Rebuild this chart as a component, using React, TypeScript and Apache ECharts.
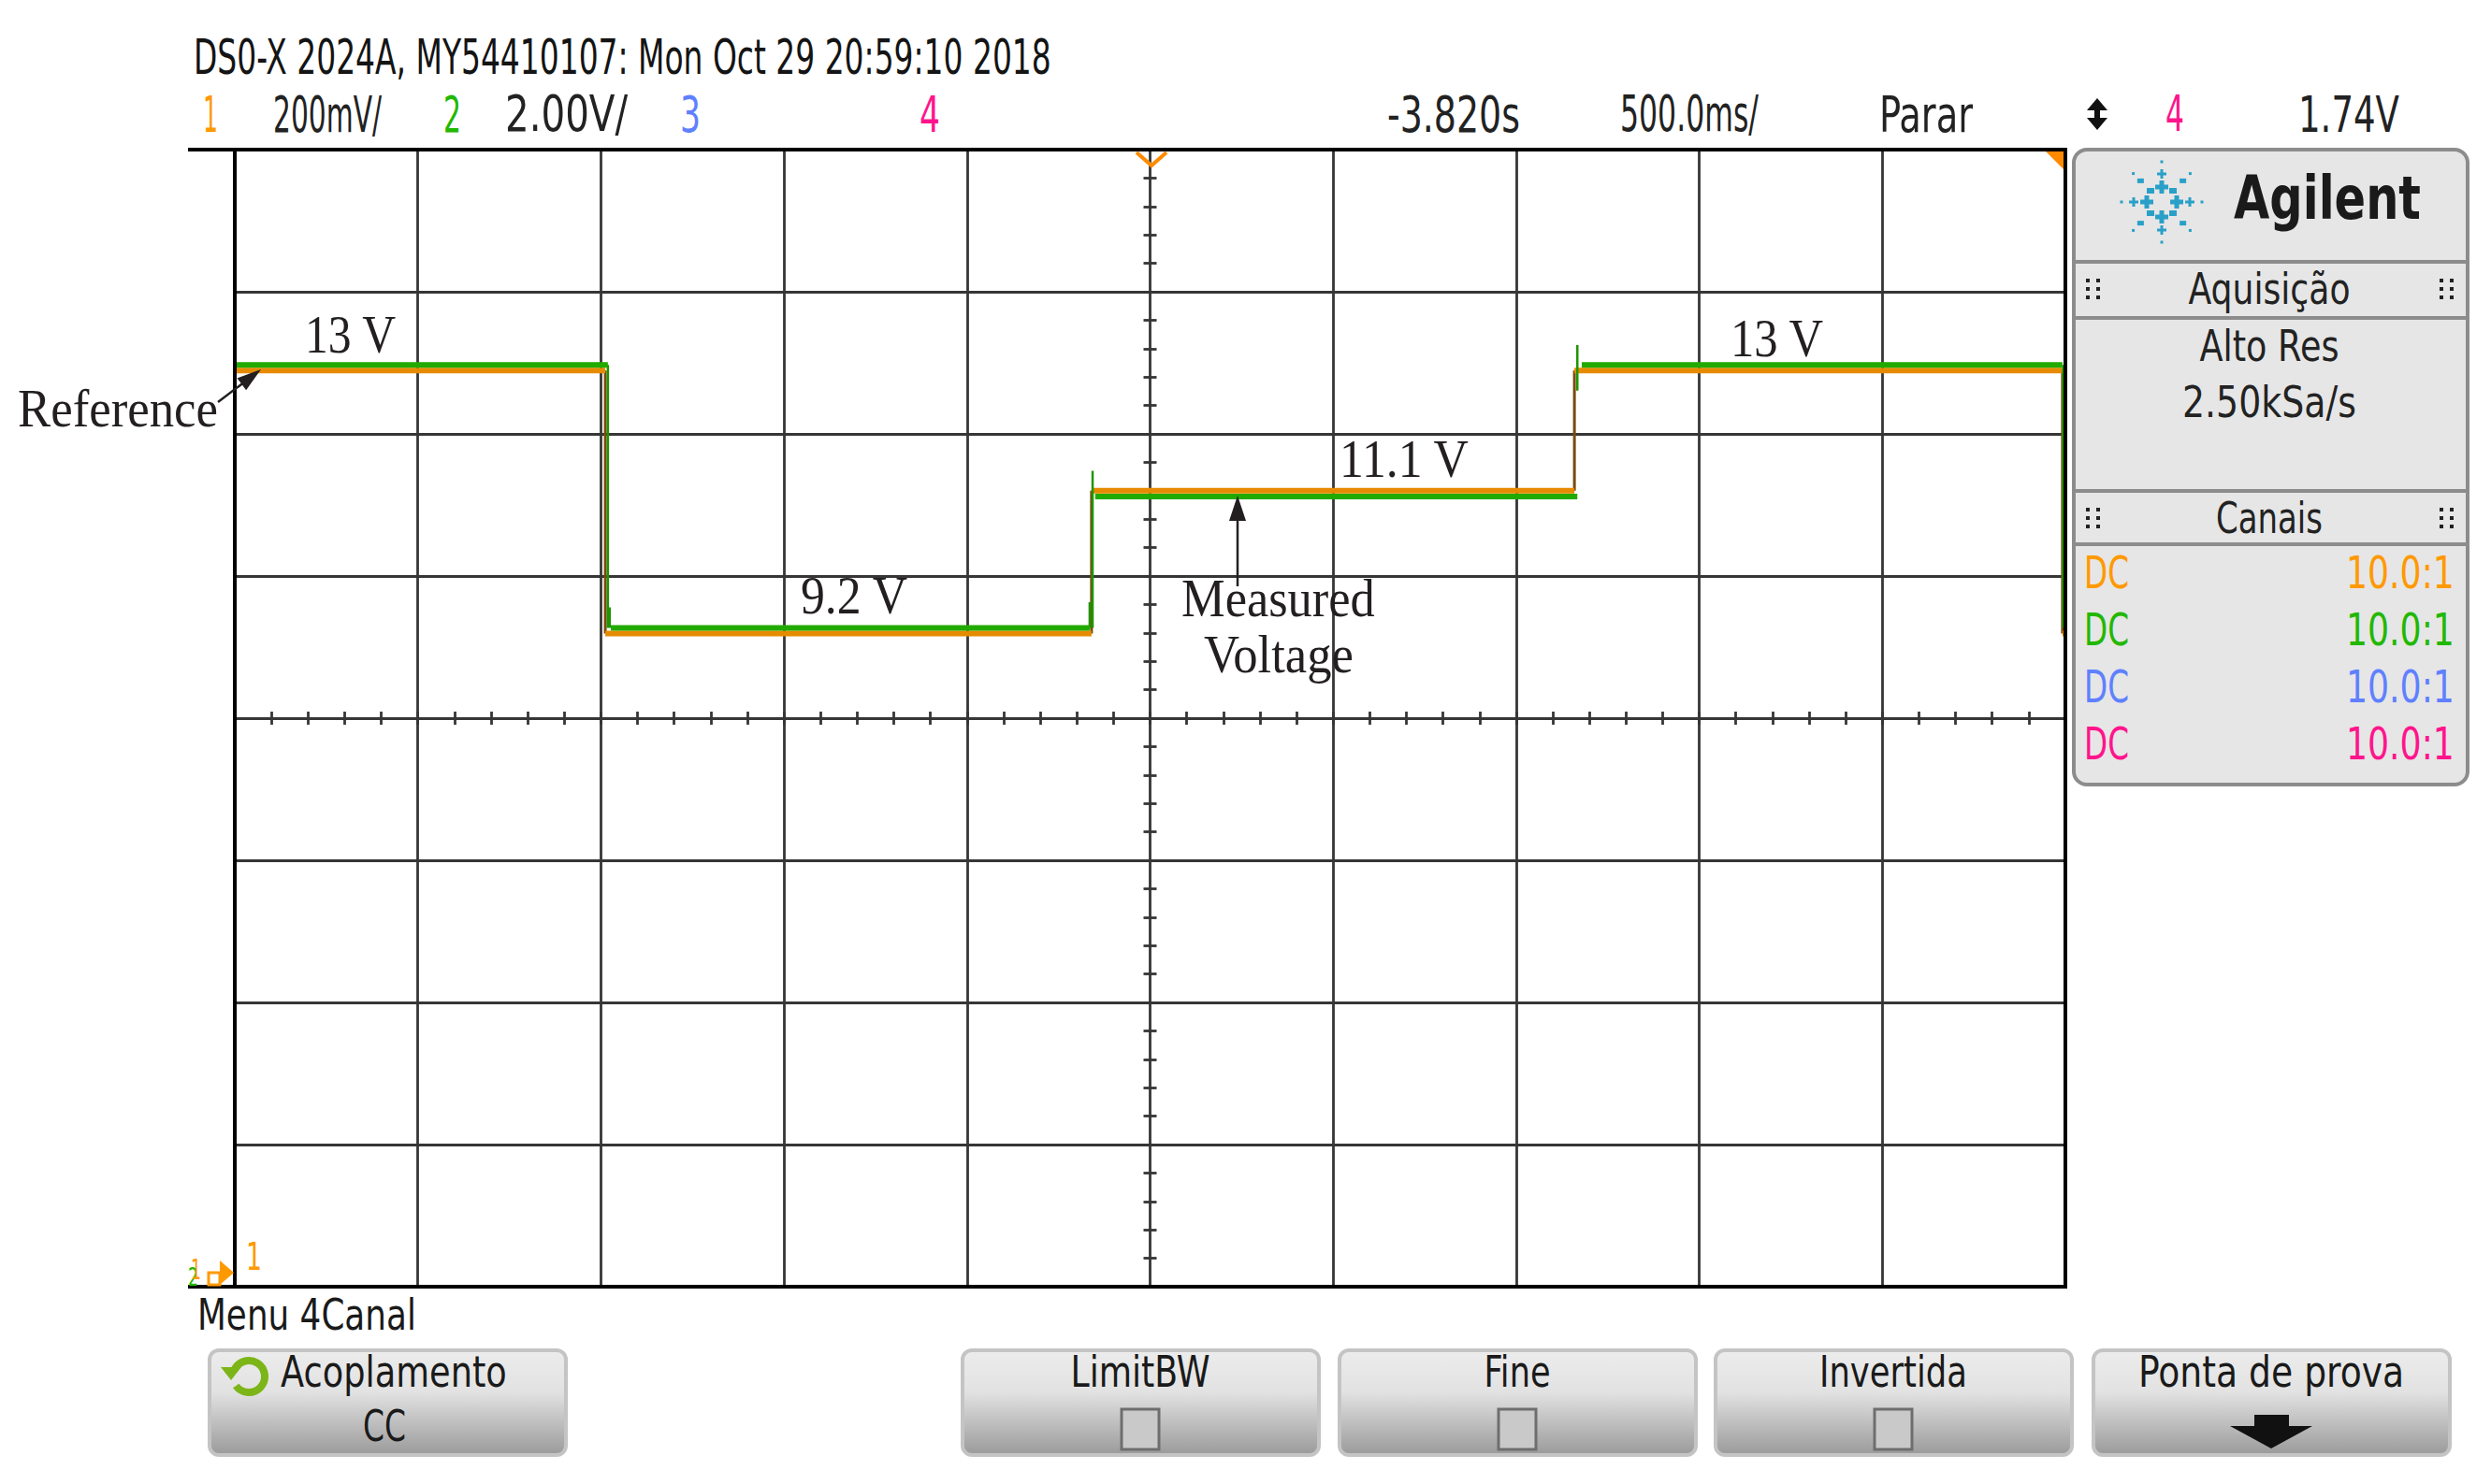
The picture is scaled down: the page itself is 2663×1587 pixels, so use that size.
import React, { useEffect, useRef } from "react";
import * as echarts from "echarts";

const W = 2663;
const H = 1587;

// ---------------- data read from the screen ----------------
// x: time from the left edge of the screen in s (500.0 ms/div, 10 div)
const timeMin = 0;
const timeMax = 5;
const timeStep = 0.5;
// channel 2 (measured): 2.00 V/div, 8 div
const voltMin = 0;
const voltMax = 16;
const voltStep = 2;
// channel 1 (reference): 200 mV/div
const refMin = 0;
const refMax = 1.6;

// reference (ch1, orange) flat segments
const refSegStart = [0, 1.012, 2.34, 3.659, 4.992];
const refSegEnd = [1.012, 2.34, 3.659, 4.992, 5.0];
const refLevels = [1.289, 0.919, 1.12, 1.289, 0.919];

// measured (ch2, green) flat segments
const measSegStart = [0, 1.027, 2.35, 3.679, 4.996];
const measSegEnd = [1.019, 2.335, 3.667, 4.992, 5.0];
const measLevels = [12.97, 9.27, 11.12, 12.97, 9.27];

// measured edges and glitches: time, from, to
const measEdgeTime = [1.019, 1.024, 2.335, 2.343, 3.667, 4.994];
const measEdgeFrom = [12.97, 9.56, 9.63, 9.27, 12.61, 12.97];
const measEdgeTo = [9.27, 9.27, 9.27, 11.48, 13.25, 9.27];

// annotation texts
const levelNotes = ["13 V", "9.2 V", "11.1 V", "13 V"];
const headerTitle = "DS0-X 2024A, MY54410107: Mon Oct 29 20:59:10 2018";
const channelRatios = ["10.0:1", "10.0:1", "10.0:1", "10.0:1"];
const buttonTitles = ["Acoplamento", "LimitBW", "Fine", "Invertida", "Ponta de prova"];

const ORANGE = "#e68a00";
const GREEN = "#22aa00";
const C1 = "#ff9900";
const C2 = "#22b800";
const C3 = "#5f80ff";
const C4 = "#ff148c";

const narrow = '"Liberation Sans Narrow", "DejaVu Sans Condensed", "DejaVu Sans", sans-serif';
const pixel = '"DejaVu Sans", sans-serif';
const serif = '"Liberation Serif", "Times New Roman", serif';

export default function App() {
  const ref = useRef<HTMLDivElement>(null);

  useEffect(() => {
    document.body.style.margin = "0";
    const el = ref.current!;
    const chart = echarts.init(el, null, { renderer: "svg" });

    const ctx = document.createElement("canvas").getContext("2d")!;
    const measure = (s: string, size: number, family: string, weight: string) => {
      ctx.font = `${weight} ${size}px ${family}`;
      return ctx.measureText(s).width || 1;
    };
    const T = (
      s: string,
      x: number,
      y: number,
      w: number,
      size: number,
      family: string,
      color: string,
      align: string = "left",
      weight: string = "normal"
    ) => {
      const nat = measure(s, size, family, weight);
      let left = x;
      if (align === "center") left = x - w / 2;
      if (align === "right") left = x - w;
      return {
        type: "text",
        x: left,
        y,
        scaleX: w / nat,
        z: 120,
        silent: true,
        style: {
          text: s,
          fill: color,
          fontSize: size,
          fontFamily: family,
          fontWeight: weight,
          align: "left",
          verticalAlign: "middle",
          textAlign: "left",
          textVerticalAlign: "middle",
        },
      };
    };
    const line = (x1: number, y1: number, x2: number, y2: number, color: string, lw: number, z = 110) => ({
      type: "line",
      z,
      silent: true,
      shape: { x1, y1, x2, y2 },
      style: { stroke: color, lineWidth: lw },
    });
    const poly = (pts: number[][], color: string, z = 110) => ({
      type: "polygon",
      z,
      silent: true,
      shape: { points: pts },
      style: { fill: color },
    });
    const rect = (x: number, y: number, w: number, h: number, style: any, r = 0, z = 105) => ({
      type: "rect",
      z,
      silent: true,
      shape: { x, y, width: w, height: h, r },
      style,
    });

    // series data built from the arrays
    const flat = (st: number[], en: number[], lv: number[]) =>
      st.flatMap((s, i) => [
        [s, lv[i]],
        [en[i], lv[i]],
        [en[i], "-"],
      ]);
    const refFlat = flat(refSegStart, refSegEnd, refLevels);
    const measFlat = flat(measSegStart, measSegEnd, measLevels);
    const refEdges = refSegStart.slice(1).flatMap((t, i) => [
      [t, refLevels[i]],
      [t, refLevels[i + 1]],
      [t, "-"],
    ]);
    const measEdges = measEdgeTime.flatMap((t, i) => [
      [t, measEdgeFrom[i]],
      [t, measEdgeTo[i]],
      [t, "-"],
    ]);

    const gridL = 251, gridT = 160, gridW = 1957, gridH = 1216;

    const g: any[] = [];

    // header
    g.push(T(headerTitle, 207, 61, 917, 52, narrow, "#141414"));
    const hy = 122;
    g.push(T("1", 217, hy, 16, 54, narrow, C1));
    g.push(T("200mV/", 292, hy, 116, 54, narrow, "#222"));
    g.push(T("2", 474, hy, 19, 54, narrow, C2));
    g.push(T("2.00V/", 540, hy, 131, 54, narrow, "#222"));
    g.push(T("3", 727, hy, 22, 54, narrow, C3));
    g.push(T("4", 983, hy, 22, 54, narrow, C4));
    g.push(T("-3.820s", 1483, hy, 142, 54, narrow, "#222"));
    g.push(T("500.0ms/", 1732, hy, 148, 54, narrow, "#222"));
    g.push(T("Parar", 2009, hy, 100, 54, narrow, "#222"));
    g.push(T("4", 2315, hy, 20, 54, narrow, C4));
    g.push(T("1.74V", 2457, hy, 108, 54, narrow, "#222"));
    // up-down arrow
    g.push(poly([[2242, 105], [2231, 118], [2253, 118]], "#111"));
    g.push(rect(2239, 116, 6, 12, { fill: "#111" }, 0, 110));
    g.push(poly([[2231, 126], [2253, 126], [2242, 139]], "#111"));

    // screen frame
    g.push(rect(gridL, gridT, gridW, gridH, { fill: "none", stroke: "#000", lineWidth: 4 }, 0, 100));
    g.push(line(201, gridT, gridL, gridT, "#000", 4, 100));
    g.push(line(201, gridT + gridH, gridL, gridT + gridH, "#000", 4, 100));
    // trigger markers
    g.push({
      type: "polyline",
      z: 110,
      silent: true,
      shape: { points: [[1215, 163], [1231, 177], [1247, 163]] },
      style: { stroke: "#ff8a00", lineWidth: 4, fill: "none" },
    });
    g.push(poly([[2187, 162], [2206, 162], [2206, 181]], "#ff8a00"));
    // ground markers bottom-left
    g.push(T("1", 263, 1344, 17, 40, pixel, C1));
    g.push(T("2", 201, 1366, 11, 26, pixel, C2));
    g.push(T("1", 204, 1358, 11, 30, pixel, C1));
    g.push(rect(223, 1361, 12, 13, { fill: "none", stroke: C1, lineWidth: 3 }, 0, 110));
    g.push(poly([[235, 1348], [250, 1361], [235, 1374]], C1));

    // annotations
    g.push(T(levelNotes[0], 326, 358, 98, 56, serif, "#231f20"));
    g.push(T(levelNotes[1], 856, 637, 115, 56, serif, "#231f20"));
    g.push(T(levelNotes[2], 1432, 491, 139, 56, serif, "#231f20"));
    g.push(T(levelNotes[3], 1850, 362, 100, 56, serif, "#231f20"));
    g.push(T("Reference", 19, 437, 214, 56, serif, "#231f20"));
    g.push(T("Measured", 1263, 640, 207, 56, serif, "#231f20"));
    g.push(T("Voltage", 1287, 700, 160, 56, serif, "#231f20"));
    g.push(line(233, 430, 262, 408, "#231f20", 2.5));
    g.push(poly([[279, 395], [253.5, 404.4], [263.1, 417.2]], "#231f20"));
    g.push(line(1323, 627, 1323, 552, "#231f20", 2.5));
    g.push(poly([[1323, 530], [1314, 557], [1332, 557]], "#231f20"));

    // right panel
    const pX = 2217, pY = 160, pW = 421, pH = 679;
    g.push(rect(pX, pY, pW, pH, { fill: "#e6e6e6", stroke: "#8c8c8c", lineWidth: 4 }, 14, 102));
    [280, 340, 525, 582].forEach((y) => g.push(line(pX + 2, y, pX + pW - 2, y, "#8c8c8c", 4, 103)));
    g.push(T("Agilent", 2388, 212, 200, 64, pixel, "#1a1a1a", "left", "bold"));
    // Agilent spark logo
    const lx = 2311, ly = 216, LB = "#2aa0c8";
    for (let k = 0; k < 8; k++) {
      const a = (k * Math.PI) / 4;
      const c = Math.cos(a), s = Math.sin(a);
      const pt = (d: number) => [lx + d * c, ly + d * s];
      if (k % 2 === 0) {
        const [x1, y1] = pt(16);
        g.push(rect(x1 - 7, y1 - 2.5, 14, 5, { fill: LB }, 0, 110));
        g.push(rect(x1 - 2.5, y1 - 7, 5, 14, { fill: LB }, 0, 110));
        const [x2, y2] = pt(30);
        g.push(rect(x2 - 5, y2 - 1.5, 10, 3, { fill: LB }, 0, 110));
        g.push(rect(x2 - 1.5, y2 - 5, 3, 10, { fill: LB }, 0, 110));
        const [x3, y3] = pt(43);
        g.push(rect(x3 - 1.5, y3 - 1.5, 3, 3, { fill: LB }, 0, 110));
      } else {
        const [x1, y1] = pt(17);
        g.push(rect(x1 - 4, y1 - 3, 8, 6, { fill: LB }, 0, 110));
        const [x2, y2] = pt(32);
        g.push(rect(x2 - 3.5, y2 - 2.5, 7, 5, { fill: LB }, 0, 110));
        const [x3, y3] = pt(43);
        g.push(rect(x3 - 1.5, y3 - 1.5, 3, 3, { fill: LB }, 0, 110));
      }
    }
    const dots = (x: number, y: number) => {
      for (const dx of [0, 11]) for (const dy of [-9, 0, 9]) g.push(rect(x + dx - 2, y + dy - 2, 4, 4, { fill: "#222" }, 0, 110));
    };
    dots(2232, 309);
    dots(2610, 309);
    dots(2232, 554);
    dots(2610, 554);
    g.push(T("Aquisição", 2426, 309, 173, 46, pixel, "#222", "center"));
    g.push(T("Alto Res", 2426, 370, 149, 46, pixel, "#222", "center"));
    g.push(T("2.50kSa/s", 2426, 430, 186, 46, pixel, "#222", "center"));
    g.push(T("Canais", 2426, 554, 114, 46, pixel, "#222", "center"));
    [C1, C2, C3, C4].forEach((col, i) => {
      const y = 613 + i * 61;
      g.push(T("DC", 2228, y, 48, 48, pixel, col));
      g.push(T(channelRatios[i], 2624, y, 116, 48, pixel, col, "right"));
    });

    // bottom menu
    g.push(T("Menu 4Canal", 211, 1406, 234, 46, pixel, "#1a1a1a"));
    const btnX = [224, 1029, 1432, 1834, 2238];
    const btnGrad = new echarts.graphic.LinearGradient(0, 0, 0, 1, [
      { offset: 0, color: "#ececec" },
      { offset: 0.4, color: "#e2e2e2" },
      { offset: 1, color: "#9a9a9a" },
    ]);
    btnX.forEach((x) =>
      g.push(rect(x, 1444, 381, 112, { fill: btnGrad, stroke: "#c4c4c4", lineWidth: 4 }, 10, 104))
    );
    g.push(T(buttonTitles[0], 300, 1467, 242, 46, pixel, "#1a1a1a"));
    g.push(T("CC", 411, 1525, 46, 46, pixel, "#1a1a1a", "center"));
    g.push({
      type: "arc",
      z: 110,
      silent: true,
      shape: { cx: 266, cy: 1472, r: 17, startAngle: Math.PI * 1.12, endAngle: Math.PI * 2.8, clockwise: true },
      style: { stroke: "#7cb518", lineWidth: 8, fill: "none" },
    });
    g.push(poly([[236, 1462], [258, 1462], [247, 1476]], "#7cb518"));
    const centers = [1219, 1622, 2024, 2428];
    [1, 2, 3].forEach((b) => {
      const cx = centers[b - 1];
      g.push(T(buttonTitles[b], cx, 1467, [149, 71, 158][b - 1], 46, narrow, "#1a1a1a", "center"));
      g.push(
        rect(cx - 20, 1507, 40, 43, { fill: "#c9c9c9", stroke: "#6e6e6e", lineWidth: 3 }, 0, 110)
      );
    });
    g.push(T(buttonTitles[4], 2428, 1467, 284, 46, narrow, "#1a1a1a", "center"));
    g.push(
      poly(
        [
          [2410, 1513],
          [2447, 1513],
          [2447, 1525],
          [2472, 1525],
          [2428, 1549],
          [2384, 1525],
          [2410, 1525],
        ],
        "#111"
      )
    );

    const gridLine = { color: "#363636", width: 2.8 };
    const tickAxisX = (inside: boolean) => ({
      type: "value",
      min: timeMin,
      max: timeMax,
      interval: 0.1,
      position: "bottom",
      offset: -gridH / 2,
      axisLine: { show: false, onZero: false },
      axisTick: { show: true, inside, length: 7, lineStyle: gridLine },
      axisLabel: { show: false },
      splitLine: { show: false },
    });
    const tickAxisY = (inside: boolean) => ({
      type: "value",
      min: voltMin,
      max: voltMax,
      interval: 0.4,
      position: "left",
      offset: -gridW / 2,
      axisLine: { show: false, onZero: false },
      axisTick: { show: true, inside, length: 7, lineStyle: gridLine },
      axisLabel: { show: false },
      splitLine: { show: false },
    });

    chart.setOption({
      animation: false,
      backgroundColor: "#ffffff",
      grid: { left: gridL, top: gridT, width: gridW, height: gridH, show: false },
      xAxis: [
        {
          type: "value",
          min: timeMin,
          max: timeMax,
          interval: timeStep,
          axisLine: { show: false, onZero: false },
          axisTick: { show: false },
          axisLabel: { show: false },
          splitLine: { show: true, lineStyle: gridLine },
        },
        tickAxisX(false),
        tickAxisX(true),
      ],
      yAxis: [
        {
          type: "value",
          min: voltMin,
          max: voltMax,
          interval: voltStep,
          axisLine: { show: false, onZero: false },
          axisTick: { show: false },
          axisLabel: { show: false },
          splitLine: { show: true, lineStyle: gridLine },
        },
        {
          type: "value",
          min: refMin,
          max: refMax,
          show: false,
          position: "right",
          axisLine: { onZero: false },
          splitLine: { show: false },
        },
        tickAxisY(false),
        tickAxisY(true),
      ],
      series: [
        {
          type: "line",
          name: "Reference edges",
          xAxisIndex: 0,
          yAxisIndex: 1,
          data: refEdges,
          symbol: "none",
          lineStyle: { color: "#7a4a0e", width: 3 },
          z: 3,
        },
        {
          type: "line",
          name: "Reference",
          xAxisIndex: 0,
          yAxisIndex: 1,
          data: refFlat,
          symbol: "none",
          lineStyle: { color: ORANGE, width: 6, cap: "butt" },
          z: 4,
        },
        {
          type: "line",
          name: "Measured edges",
          xAxisIndex: 0,
          yAxisIndex: 0,
          data: measEdges,
          symbol: "none",
          lineStyle: { color: "#1e9600", width: 2.5 },
          z: 5,
        },
        {
          type: "line",
          name: "Measured",
          xAxisIndex: 0,
          yAxisIndex: 0,
          data: measFlat,
          symbol: "none",
          lineStyle: { color: GREEN, width: 6, cap: "butt" },
          z: 6,
        },
      ],
      graphic: { elements: g },
    });

    return () => chart.dispose();
  }, []);

  return <div ref={ref} style={{ width: W, height: H }} />;
}
